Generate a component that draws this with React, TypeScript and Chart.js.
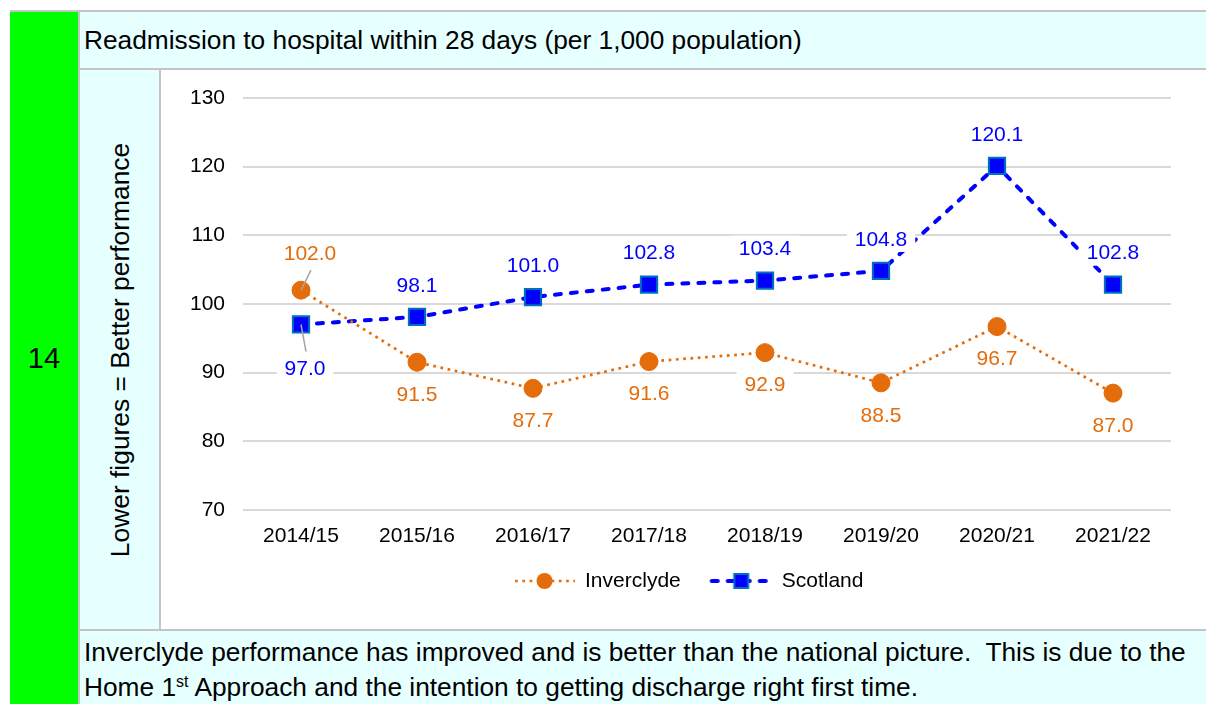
import React, { useEffect, useRef } from 'react';
import { Chart, registerables } from 'chart.js';

Chart.register(...registerables);

// ---------- data ----------
const categories = ['2014/15', '2015/16', '2016/17', '2017/18', '2018/19', '2019/20', '2020/21', '2021/22'];
const inverclydeValues = [102.0, 91.5, 87.7, 91.6, 92.9, 88.5, 96.7, 87.0];
const scotlandValues = [97.0, 98.1, 101.0, 102.8, 103.4, 104.8, 120.1, 102.8];
const seriesNames = ['Inverclyde', 'Scotland'];
const yMin = 70;
const yMax = 130;
const yStep = 10;

// ---------- styles ----------
const FONT = "'Liberation Sans', Arial, Helvetica, sans-serif";
const ORANGE = '#E46C0A';
const BLUE = '#0000FF';
const SQUARE_BORDER = '#0070C0';
const CYAN = '#E6FFFF';
const RULE = '#C4C4C4';

// label placement rules per series: default offset, and special first point with leader line
const labelRules = [
  { dy: 32, special: { index: 0, dx: 9, dy: -37 } },
  { dy: -32, special: { index: 0, dx: 4, dy: 44 } },
];

function makeLegendImage(kind: 'circle' | 'square'): HTMLCanvasElement {
  const c = document.createElement('canvas');
  c.width = 100;
  c.height = 24;
  const ctx = c.getContext('2d')!;
  const gx = 30;
  const y = 12;
  ctx.save();
  if (kind === 'circle') {
    ctx.strokeStyle = ORANGE;
    ctx.lineWidth = 2.7;
    ctx.setLineDash([2.7, 4.6]);
  } else {
    ctx.strokeStyle = BLUE;
    ctx.lineWidth = 4;
    ctx.lineCap = 'round';
    ctx.setLineDash([6, 10]);
  }
  ctx.beginPath();
  ctx.moveTo(gx + 2, y);
  ctx.lineTo(gx + 62, y);
  ctx.stroke();
  ctx.restore();
  const cx = gx + 31.5;
  if (kind === 'circle') {
    ctx.fillStyle = ORANGE;
    ctx.beginPath();
    ctx.arc(cx, y, 8, 0, Math.PI * 2);
    ctx.fill();
  } else {
    ctx.fillStyle = BLUE;
    ctx.fillRect(cx - 7, y - 7, 14, 14);
    ctx.strokeStyle = SQUARE_BORDER;
    ctx.lineWidth = 2;
    ctx.strokeRect(cx - 7, y - 7, 14, 14);
  }
  return c;
}

const dataLabelPlugin = {
  id: 'dataLabelPlugin',
  afterDatasetsDraw(chart: any) {
    const ctx: CanvasRenderingContext2D = chart.ctx;
    ctx.save();
    ctx.font = `21px ${FONT}`;
    ctx.textAlign = 'center';
    ctx.textBaseline = 'middle';
    chart.data.datasets.forEach((ds: any, di: number) => {
      const meta = chart.getDatasetMeta(di);
      const rule = labelRules[di];
      meta.data.forEach((pt: any, i: number) => {
        const v = ds.data[i] as number;
        const text = v.toFixed(1);
        const isSpecial = rule.special && rule.special.index === i;
        const dx = isSpecial ? rule.special.dx : 0;
        const dy = isSpecial ? rule.special.dy : rule.dy;
        const lx = pt.x + dx;
        const ly = pt.y + dy;
        const w = ctx.measureText(text).width + 16;
        const h = 26;
        ctx.fillStyle = '#FFFFFF';
        ctx.fillRect(lx - w / 2, ly - h / 2, w, h);
        ctx.fillStyle = ds.labelColor;
        ctx.fillText(text, lx, ly + 1);
        if (isSpecial) {
          const sign = dy < 0 ? 1 : -1;
          ctx.strokeStyle = '#A6A6A6';
          ctx.lineWidth = 1.5;
          ctx.beginPath();
          ctx.moveTo(pt.x, pt.y);
          ctx.lineTo(lx + 1, ly + sign * (h / 2 + 4));
          ctx.stroke();
        }
      });
    });
    ctx.restore();
  },
};

function ChartCanvas() {
  const ref = useRef<HTMLCanvasElement | null>(null);
  useEffect(() => {
    if (!ref.current) return;
    const legendImages = [makeLegendImage('circle'), makeLegendImage('square')];
    const chart = new Chart(ref.current, {
      type: 'line',
      data: {
        labels: categories,
        datasets: [
          {
            label: seriesNames[0],
            data: inverclydeValues,
            borderColor: ORANGE,
            backgroundColor: ORANGE,
            borderWidth: 2.7,
            borderDash: [2.7, 4.6],
            pointStyle: 'circle',
            pointRadius: 9,
            pointBackgroundColor: ORANGE,
            pointBorderColor: ORANGE,
            pointBorderWidth: 1,
            tension: 0,
            fill: false,
            labelColor: ORANGE,
          } as any,
          {
            label: seriesNames[1],
            data: scotlandValues,
            borderColor: BLUE,
            backgroundColor: BLUE,
            borderWidth: 4,
            borderDash: [6, 10],
            borderCapStyle: 'round',
            pointStyle: 'rect',
            pointRadius: 11.5,
            pointBackgroundColor: BLUE,
            pointBorderColor: SQUARE_BORDER,
            pointBorderWidth: 2,
            tension: 0,
            fill: false,
            labelColor: BLUE,
          } as any,
        ],
      },
      options: {
        responsive: false,
        animation: false,
        layout: { padding: { left: 23, right: 35, top: 28, bottom: 27.5 } },
        scales: {
          x: {
            offset: true,
            grid: { display: false, drawTicks: false },
            border: { display: false },
            ticks: { color: '#000', font: { size: 21, family: FONT }, padding: 14, maxRotation: 0 },
          },
          y: {
            min: yMin,
            max: yMax,
            grid: { color: '#D9D9D9', lineWidth: 2, drawTicks: false },
            border: { display: false },
            ticks: { stepSize: yStep, color: '#000', font: { size: 21, family: FONT }, padding: 18 },
            afterFit: (scale: any) => {
              scale.width = 59;
              scale.paddingTop = 0;
            },
          },
        },
        plugins: {
          tooltip: { enabled: false },
          legend: {
            position: 'bottom',
            labels: {
              usePointStyle: true,
              pointStyleWidth: 83,
              padding: 7.5,
              color: '#000',
              font: { size: 21, family: FONT },
              generateLabels: (c: any) =>
                c.data.datasets.map((ds: any, i: number) => ({
                  text: ds.label,
                  pointStyle: legendImages[i],
                  fillStyle: 'transparent',
                  strokeStyle: 'transparent',
                  lineWidth: 0,
                  hidden: false,
                  datasetIndex: i,
                  fontColor: '#000',
                })),
            },
          },
        },
      },
      plugins: [dataLabelPlugin],
    });
    return () => chart.destroy();
  }, []);
  return <canvas ref={ref} width={1045} height={559} style={{ display: 'block' }} />;
}

export default function App() {
  const abs = (s: React.CSSProperties): React.CSSProperties => ({ position: 'absolute', ...s });
  return (
    <div style={abs({ left: 0, top: 0, width: 1206, height: 704, background: '#FFFFFF', fontFamily: FONT, color: '#000', overflow: 'hidden' })}>
      <div style={abs({ left: 10, top: 10, width: 1196, height: 2, background: RULE })} />
      <div
        style={abs({
          left: 10,
          top: 12,
          width: 68,
          height: 692,
          background: '#00FF00',
          display: 'flex',
          alignItems: 'center',
          justifyContent: 'center',
          fontSize: 29,
        })}
      >
        14
      </div>
      <div style={abs({ left: 78, top: 12, width: 2, height: 692, background: RULE })} />
      <div
        style={abs({
          left: 80,
          top: 12,
          width: 1126,
          height: 56,
          background: CYAN,
          fontSize: 26.3,
          lineHeight: '56px',
          paddingLeft: 4,
          boxSizing: 'border-box',
          whiteSpace: 'nowrap',
        })}
      >
        Readmission to hospital within 28 days (per 1,000 population)
      </div>
      <div style={abs({ left: 80, top: 68, width: 1126, height: 2, background: RULE })} />
      <div style={abs({ left: 80, top: 70, width: 79, height: 559, background: CYAN })} />
      <div
        style={abs({
          left: 120,
          top: 350,
          transform: 'translate(-50%, -50%) rotate(-90deg)',
          fontSize: 26.4,
          whiteSpace: 'nowrap',
        })}
      >
        Lower figures = Better performance
      </div>
      <div style={abs({ left: 159, top: 70, width: 2, height: 559, background: RULE })} />
      <div style={abs({ left: 161, top: 70, width: 1045, height: 559 })}>
        <ChartCanvas />
      </div>
      <div style={abs({ left: 80, top: 629, width: 1126, height: 2, background: RULE })} />
      <div
        style={abs({
          left: 80,
          top: 631,
          width: 1126,
          height: 73,
          background: CYAN,
          fontSize: 26.3,
          lineHeight: '35px',
          paddingLeft: 4,
          paddingTop: 4,
          boxSizing: 'border-box',
          whiteSpace: 'pre',
        })}
      >
        {'Inverclyde performance has improved and is better than the national picture.  This is due to the'}
        <br />
        {'Home 1'}
        <span style={{ fontSize: 16, position: 'relative', top: -9 }}>st</span>
        {' Approach and the intention to getting discharge right first time.'}
      </div>
    </div>
  );
}
